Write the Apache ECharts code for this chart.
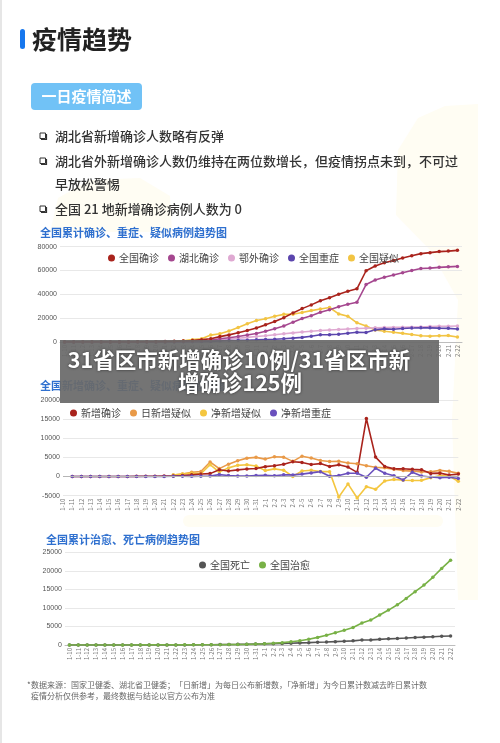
<!DOCTYPE html>
<html><head><meta charset="utf-8">
<script src="https://cdn.jsdelivr.net/npm/echarts@6/dist/echarts.min.js"></script>
<style>html,body{margin:0;padding:0;background:#fff}#c{width:500px;height:743px}</style>
</head><body><div id="c"></div>
<script>
const dates = ['1-10','1-11','1-12','1-13','1-14','1-15','1-16','1-17','1-18','1-19','1-20','1-21','1-22','1-23','1-24','1-25','1-26','1-27','1-28','1-29','1-30','1-31','2-1','2-2','2-3','2-4','2-5','2-6','2-7','2-8','2-9','2-10','2-11','2-12','2-13','2-14','2-15','2-16','2-17','2-18','2-19','2-20','2-21','2-22'];

// chart 1: cumulative
const cumConfirmed = [41,41,41,41,41,41,45,62,121,198,291,440,571,830,1287,1975,2744,4515,5974,7711,9692,11791,14380,17205,20438,24324,28018,31161,34546,37198,40171,42638,44653,59804,63851,66492,68500,70548,72436,74185,75002,75891,76288,76936];
const cumHubei = [41,41,41,41,41,41,45,62,121,198,270,375,444,549,729,1052,1423,2714,3554,4586,5806,7153,9074,11177,13522,16678,19665,22112,24953,27100,29631,31728,33366,48206,51986,54406,56249,58182,59989,61682,62031,62662,63088,63454];
const cumOutside = [0,0,0,0,0,0,0,0,0,0,21,65,127,281,558,923,1321,1801,2420,3125,3886,4638,5306,6028,6916,7646,8353,9049,9593,10098,10540,10910,11287,11598,11865,12086,12251,12366,12447,12503,12971,13229,13200,13482];
const cumSevere = [0,0,0,0,0,0,0,0,0,0,0,0,95,177,237,324,461,976,1239,1370,1527,1795,2110,2296,2788,3219,3859,4821,6101,6188,6484,7333,8204,8030,10204,11053,10644,11272,11741,11977,11864,11633,11477,10968];
const cumSuspect = [null,null,null,null,null,null,null,null,null,null,0,37,393,1072,1965,2684,5794,6973,9239,12167,15238,17988,19544,21558,23214,23260,24702,26359,27657,28942,23589,21675,16067,13435,10109,8969,8228,7264,6242,5248,4922,5206,5365,4148];

// chart 2: daily
const newConfirmed = [null,0,0,0,0,0,4,17,59,77,93,149,131,259,444,688,769,1771,1459,1737,1982,2102,2590,2829,3235,3887,3694,3143,3385,2652,3062,2478,1100,15152,5090,2641,2009,2048,1886,1749,820,889,397,648];
const newSuspectDaily = [null,null,null,null,null,null,null,null,null,null,null,null,393,680,1118,1309,3806,2077,3248,4148,4812,5019,4562,5173,5072,3971,5328,4833,4214,3916,4008,3536,3342,2807,2450,2277,1918,1563,1432,1185,1277,1614,1361,882];
const netSuspect = [null,null,null,null,null,null,null,null,null,null,null,null,393,679,893,719,3110,1179,2266,2928,3071,2750,1556,2014,1656,46,1442,1657,1298,1285,-5353,-1914,-5608,-2632,-3326,-1140,-741,-964,-1022,-994,-326,284,159,-1217];
const netSevere = [null,0,0,0,0,0,0,0,0,0,0,0,95,82,60,87,137,515,263,131,157,268,315,186,492,431,640,962,1280,87,296,849,871,-174,2174,849,200,-900,1150,150,-100,-300,-200,-500];

// chart 3: recovered / deaths
const cumDeaths = [1,1,1,1,1,2,2,2,2,3,6,9,17,25,41,56,80,106,132,170,213,259,304,361,425,490,563,636,722,811,908,1016,1113,1367,1380,1523,1665,1770,1868,2004,2118,2236,2345,2442];
const cumCured = [2,6,7,7,7,12,15,19,25,25,25,25,28,34,38,49,51,60,103,124,171,243,328,475,632,892,1153,1540,2050,2649,3281,3996,4740,5911,6723,8096,9419,10844,12552,14376,16155,18264,20659,22888];

const bullets = ['湖北省新增确诊人数略有反弹','湖北省外新增确诊人数仍维持在两位数增长，但疫情拐点未到，不可过','早放松警惕','全国 21 地新增确诊病例人数为 0'];

const FONT = '"Noto Sans CJK SC","Noto Sans",sans-serif';
const chart = echarts.init(document.getElementById('c'), null, {renderer:'canvas'});

function xAx(gi, gap, lineShow){
  return {type:'category', gridIndex:gi, data:dates, boundaryGap:gap,
    axisLine:{show:lineShow, onZero:false, lineStyle:{color:'#bdbdbd'}},
    axisTick:{show:false},
    axisLabel:{rotate:90, interval:0, fontSize:6, color:'#777', margin:3, fontFamily:FONT}};
}
function yAx(gi, min, max, itv){
  return {type:'value', gridIndex:gi, min:min, max:max, interval:itv,
    axisLine:{show:false}, axisTick:{show:false},
    splitLine:{lineStyle:{color:'#e8e8e8', width:1}},
    axisLabel:{fontSize:7, color:'#555', margin:3, fontFamily:'"Liberation Sans",sans-serif',
      formatter:function(v){ return String(v); }}};
}
function ln(name, data, color, xi, extra){
  return Object.assign({name:name, type:'line', data:data, xAxisIndex:xi, yAxisIndex:xi,
    symbol:'circle', symbolSize:3.5, showSymbol:true, connectNulls:false,
    itemStyle:{color:color}, lineStyle:{color:color, width:1.6}, animation:false}, extra||{});
}
function legendStyle(o){
  return Object.assign({icon:'circle', itemWidth:7, itemHeight:7, itemGap:9,
    textStyle:{fontSize:10, color:'#444', fontFamily:FONT, padding:[0,0,0,-1]}}, o);
}

const graphics = [];
// faint background decorations
const pale = '#fffdf3';
graphics.push({type:'rect', z:-20, shape:{x:0,y:0,width:2,height:743}, style:{fill:'#e6e6e6'}});
graphics.push({type:'polygon', z:-20, shape:{points:[[398,150],[418,118],[445,106],[478,104],[478,600],[458,600],[452,420],[458,300],[430,250],[396,215]]}, style:{fill:pale}});
graphics.push({type:'polygon', z:-20, shape:{points:[[50,232],[58,198],[90,180],[140,178],[170,196],[172,232]]}, style:{fill:pale}});
graphics.push({type:'rect', z:-20, shape:{x:183,y:515,width:260,height:12,r:6}, style:{fill:pale}});
// page heading
graphics.push({type:'rect', shape:{x:20,y:29,width:5,height:20,r:2.5}, style:{fill:'#1677ee'}});
graphics.push({type:'text', style:{x:32,y:39,text:'疫情趋势', fontSize:25, fontWeight:'bold', fontFamily:FONT, fill:'#222', align:'left', verticalAlign:'middle', textAlign:'left', textVerticalAlign:'middle'}});
// button
graphics.push({type:'rect', shape:{x:31,y:83,width:111,height:27,r:4}, style:{fill:'#71c2f6'}});
graphics.push({type:'text', style:{x:86.5,y:96.5,text:'一日疫情简述', fontSize:15, fontWeight:'bold', fontFamily:FONT, fill:'#fff', align:'center', verticalAlign:'middle', textAlign:'center', textVerticalAlign:'middle'}});
// bullets
const by = [136,161,184,209];
bullets.forEach(function(t,i){
  if(i!==2){
    graphics.push({type:'rect', shape:{x:40,y:by[i]-3,width:5.5,height:5.5}, style:{fill:'#fff', stroke:'#333', lineWidth:1}});
    graphics.push({type:'polyline', shape:{points:[[41,by[i]+3.5],[46.5,by[i]+3.5],[46.5,by[i]-2]]}, style:{stroke:'#333', lineWidth:1.2, fill:null}});
  }
  graphics.push({type:'text', style:{x:55,y:by[i],text:t, fontSize:13, fontWeight:500, fontFamily:FONT, fill:'#333', align:'left', verticalAlign:'middle', textAlign:'left', textVerticalAlign:'middle'}});
});
// chart titles
const ttl = function(x,y,t){ return {type:'text', style:{x:x,y:y,text:t, fontSize:11, fontWeight:'bold', fontFamily:FONT, fill:'#2f70cf', align:'left', verticalAlign:'middle', textAlign:'left', textVerticalAlign:'middle'}}; };
graphics.push(ttl(40,233,'全国累计确诊、重症、疑似病例趋势图'));
graphics.push(ttl(40,386,'全国新增确诊、重症、疑似病例趋势图'));
graphics.push(ttl(46,540,'全国累计治愈、死亡病例趋势图'));
// overlay banner
graphics.push({type:'rect', z:100, shape:{x:60,y:340,width:379,height:63}, style:{fill:'rgba(105,105,105,0.93)'}});
graphics.push({type:'text', z:101, style:{x:239,y:360,text:'31省区市新增确诊10例/31省区市新', fontSize:21.5, fontWeight:'bold', fontFamily:FONT, fill:'#fff', align:'center', verticalAlign:'middle', textAlign:'center', textVerticalAlign:'middle', textShadowColor:'rgba(0,0,0,0.6)', textShadowBlur:3}});
graphics.push({type:'text', z:101, style:{x:240,y:383,text:'增确诊125例', fontSize:21.5, fontWeight:'bold', fontFamily:FONT, fill:'#fff', align:'center', verticalAlign:'middle', textAlign:'center', textVerticalAlign:'middle', textShadowColor:'rgba(0,0,0,0.6)', textShadowBlur:3}});
// footnote
graphics.push({type:'text', style:{x:27,y:685,text:'*', fontSize:8, fontFamily:FONT, fill:'#555', align:'left', verticalAlign:'middle', textAlign:'left', textVerticalAlign:'middle'}});
graphics.push({type:'text', style:{x:31,y:685,text:'数据来源：国家卫健委、湖北省卫健委；「日新增」为每日公布新增数，「净新增」为今日累计数减去昨日累计数', fontSize:8, fontFamily:FONT, fill:'#666', align:'left', verticalAlign:'middle', textAlign:'left', textVerticalAlign:'middle'}});
graphics.push({type:'text', style:{x:31,y:696,text:'疫情分析仅供参考，最终数据与结论以官方公布为准', fontSize:8, fontFamily:FONT, fill:'#666', align:'left', verticalAlign:'middle', textAlign:'left', textVerticalAlign:'middle'}});

chart.setOption({
  backgroundColor:'#fff',
  animation:false,
  grid:[
    {left:60, right:38, top:246.7, height:95.3},
    {left:63, right:41.7, top:400, height:95.7},
    {left:65, right:45, top:552.3, height:92.7}
  ],
  xAxis:[xAx(0,true,true), xAx(1,false,false), xAx(2,true,true)],
  yAxis:[yAx(0,0,80000,20000), yAx(1,-5000,20000,5000), yAx(2,0,25000,5000)],
  legend:[
    legendStyle({left:103, top:248, data:['全国确诊','湖北确诊','鄂外确诊','全国重症','全国疑似']}),
    legendStyle({left:65, top:403, data:['新增确诊','日新增疑似','净新增疑似','净新增重症']}),
    legendStyle({left:194, top:555, data:['全国死亡','全国治愈']})
  ],
  series:[
    ln('全国疑似', cumSuspect, '#f2c443', 0),
    ln('鄂外确诊', cumOutside, '#dfa9d2', 0),
    ln('全国重症', cumSevere, '#5b45ad', 0),
    ln('湖北确诊', cumHubei, '#a5478f', 0),
    ln('全国确诊', cumConfirmed, '#a9231c', 0),
    ln('日新增疑似', newSuspectDaily, '#e99a48', 1),
    ln('净新增疑似', netSuspect, '#f4c63f', 1, {clip:false}),
    ln('新增确诊', newConfirmed, '#a9231c', 1, {markLine:{silent:true, symbol:'none', label:{show:false}, lineStyle:{color:'#b5b5b5', type:'solid', width:1}, data:[{yAxis:0}]}}),
    ln('净新增重症', netSevere, '#6a50bd', 1),
    ln('全国死亡', cumDeaths, '#555555', 2),
    ln('全国治愈', cumCured, '#78b146', 2)
  ],
  graphic:{elements:graphics}
});
</script></body></html>
